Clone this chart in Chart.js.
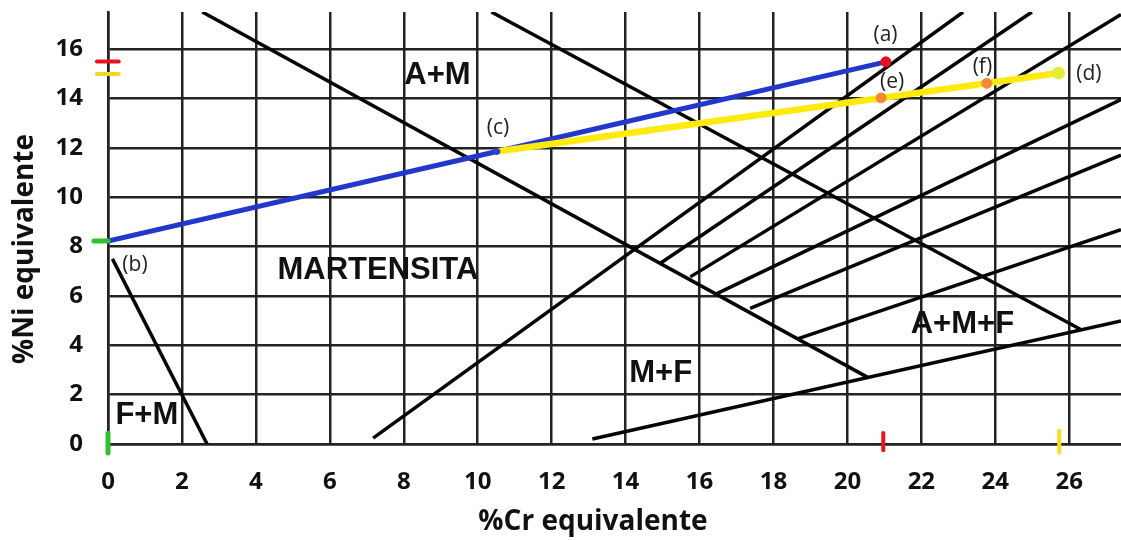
<!DOCTYPE html>
<html>
<head>
<meta charset="utf-8">
<script src="https://cdn.jsdelivr.net/npm/chart.js@4.4.1/dist/chart.umd.min.js"></script>
<style>
  html, body { margin: 0; padding: 0; background: #fff; }
  #wrap { width: 1121px; height: 540px; }
</style>
</head>
<body>
<div id="wrap"><canvas id="schaeffler"></canvas></div>
<script>
// tick values
var xTickValues = [0, 2, 4, 6, 8, 10, 12, 14, 16, 18, 20, 22, 24, 26];
var yTickValues = [0, 2, 4, 6, 8, 10, 12, 14, 16];

// phase boundaries, [Cr eq, Ni eq]
var lineFM = [[0.12, 7.5], [2.68, 0]];
var lineMartensite = [[2.55, 17.5], [20.55, 2.7]];
var lineAustenite = [[10.37, 17.5], [26.3, 4.65]];
var lineBase = [[13.1, 0.2], [27.4, 4.98]];
var ferrite0 = [[7.17, 0.24], [23.13, 17.5]];
var ferrite1 = [[14.93, 7.31], [24.99, 17.5]];
var ferrite2 = [[15.75, 6.77], [27.4, 17.4]];
var ferrite3 = [[16.47, 6.09], [27.4, 13.95]];
var ferrite4 = [[17.37, 5.49], [27.4, 11.7]];
var ferrite5 = [[18.67, 4.27], [27.4, 8.68]];

// mixing lines
var pathBlue = [[0, 8.22], [10.52, 11.85], [21.04, 15.48]];
var pathYellow = [[10.52, 11.85], [20.91, 14.02], [23.77, 14.61], [25.71, 15.03]];
var pointA = [[21.04, 15.48]];
var pointC = [[10.52, 11.85]];
var pointD = [[25.71, 15.03]];
var pointsEF = [[20.91, 14.02], [23.77, 14.61]];

// small marks on the axes
var markRedNi = [[-0.3, 15.49], [0.29, 15.49]];
var markYellowNi = [[-0.3, 14.99], [0.29, 14.99]];
var markGreenNi = [[-0.38, 8.22], [0, 8.22]];
var markGreenCr = [[0, 0.44], [0, -0.36]];
var markRedCr = [[20.97, 0.45], [20.97, -0.25]];
var markYellowCr = [[25.73, 0.55], [25.73, -0.35]];

var regionLabels = [
  ['A+M', 8.91, 14.92],
  ['MARTENSITA', 7.3, 7.04],
  ['F+M', 1.05, 1.14],
  ['M+F', 14.95, 2.86],
  ['A+M+F', 23.11, 4.84]
];
var pointLabels = [
  ['(a)', 21.03, 16.57],
  ['(b)', 0.73, 7.24],
  ['(c)', 10.55, 12.82],
  ['(d)', 26.53, 14.99],
  ['(e)', 21.21, 14.65],
  ['(f)', 23.65, 15.29]
];

function pts(arr) {
  return arr.map(function (p) { return { x: p[0], y: p[1] }; });
}

function blackLine(arr) {
  return { data: pts(arr), showLine: true, borderColor: '#050505', borderWidth: 3.5, pointRadius: 0, order: 10 };
}

function mark(arr, color, width) {
  return { data: pts(arr), showLine: true, borderColor: color, borderWidth: width, pointRadius: 0, clip: false, order: 1, borderCapStyle: 'round' };
}

function dots(arr, color, r) {
  return { data: pts(arr), showLine: false, backgroundColor: color, borderColor: color, pointRadius: r, pointHoverRadius: r, order: 2 };
}

var textPlugin = {
  id: 'diagramText',
  afterDatasetsDraw: function (chart) {
    var ctx = chart.ctx;
    var xs = chart.scales.x, ys = chart.scales.y;
    ctx.save();
    ctx.fillStyle = '#111';
    ctx.textAlign = 'center';
    ctx.textBaseline = 'middle';
    ctx.font = 'bold 31px "Liberation Sans", Arial, sans-serif';
    regionLabels.forEach(function (l) {
      ctx.fillText(l[0], xs.getPixelForValue(l[1]), ys.getPixelForValue(l[2]));
    });
    ctx.fillStyle = '#222';
    ctx.font = '21px "Open Sans", sans-serif';
    pointLabels.forEach(function (l) {
      ctx.fillText(l[0], xs.getPixelForValue(l[1]), ys.getPixelForValue(l[2]));
    });
    ctx.restore();
  },
  afterDraw: function (chart) {
    var ctx = chart.ctx;
    ctx.save();
    ctx.fillStyle = '#111';
    ctx.font = 'bold 28px "Open Sans", sans-serif';
    ctx.textAlign = 'center';
    ctx.textBaseline = 'alphabetic';
    ctx.fillText('%Cr equivalente', 593, 530);
    ctx.translate(33, 249);
    ctx.rotate(-Math.PI / 2);
    ctx.fillText('%Ni equivalente', 0, 0);
    ctx.restore();
  }
};

var gridColor = '#232323';
var tickFont = { family: '"Open Sans", sans-serif', size: 24, weight: 'bold' };

new Chart(document.getElementById('schaeffler'), {
  type: 'scatter',
  data: {
    datasets: [
      mark(markRedNi, '#e8141c', 4),
      mark(markYellowNi, '#f0d625', 4),
      mark(markGreenNi, '#2fbf2f', 5),
      mark(markGreenCr, '#2fbf2f', 5),
      mark(markRedCr, '#e8141c', 4),
      mark(markYellowCr, '#f0e020', 4),
      dots(pointA, '#e8101a', 5),
      dots(pointC, '#2443d6', 3),
      dots(pointD, '#e6ec3a', 6),
      dots(pointsEF, '#f58a36', 5),
      { data: pts(pathYellow), showLine: true, borderColor: '#ffea10', borderWidth: 6.5, pointRadius: 0, order: 4 },
      { data: pts(pathBlue), showLine: true, borderColor: '#2238cc', borderWidth: 5, pointRadius: 0, order: 5 },
      blackLine(lineFM),
      blackLine(lineMartensite),
      blackLine(lineAustenite),
      blackLine(lineBase),
      blackLine(ferrite0),
      blackLine(ferrite1),
      blackLine(ferrite2),
      blackLine(ferrite3),
      blackLine(ferrite4),
      blackLine(ferrite5)
    ]
  },
  options: {
    responsive: true,
    maintainAspectRatio: false,
    animation: false,
    events: [],
    layout: { autoPadding: false, padding: { top: 12, right: 0, bottom: 0, left: 0 } },
    plugins: { legend: { display: false }, tooltip: { enabled: false } },
    scales: {
      x: {
        type: 'linear',
        min: 0,
        max: 27.4,
        grid: { color: gridColor, lineWidth: 2.5, drawTicks: false },
        border: { color: gridColor, width: 2.5 },
        ticks: { font: tickFont, color: '#111', padding: 24, includeBounds: false },
        afterBuildTicks: function (axis) {
          axis.ticks = xTickValues.map(function (v) { return { value: v }; });
        },
        afterFit: function (scale) {
          scale.height = 96;
          scale.paddingLeft = 0;
          scale.paddingRight = 0;
        }
      },
      y: {
        type: 'linear',
        min: 0,
        max: 17.5,
        grid: { color: gridColor, lineWidth: 2.5, drawTicks: false },
        border: { color: gridColor, width: 2.5 },
        ticks: { font: tickFont, color: '#111', padding: 25, includeBounds: false },
        afterBuildTicks: function (axis) {
          axis.ticks = yTickValues.map(function (v) { return { value: v }; });
        },
        afterFit: function (scale) {
          scale.width = 108;
          scale.paddingTop = 0;
          scale.paddingBottom = 0;
        }
      }
    }
  },
  plugins: [textPlugin]
});
</script>
</body>
</html>
